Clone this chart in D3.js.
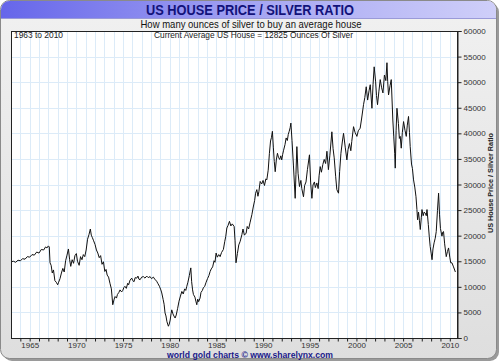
<!DOCTYPE html>
<html>
<head>
<meta charset="utf-8">
<script src="https://cdn.jsdelivr.net/npm/d3@7"></script>
<style>
  body { margin: 0; background: #fff; }
  svg { display: block; font-family: "Liberation Sans", Arial, sans-serif; }
</style>
</head>
<body>
<div class="chart"></div>
<script>
// house price / silver ratio ([year, ounces])
const ratio = [
  [1963.0,14900],[1963.25,15000],[1963.5,14800],[1963.75,15200],[1964.0,15100],[1964.25,15500],
  [1964.5,15400],[1964.75,15900],[1965.0,15800],[1965.25,16300],[1965.5,16200],[1965.75,16800],
  [1966.0,16600],[1966.25,17300],[1966.5,17200],[1966.7,17800],[1966.85,17600],[1967.0,18000],
  [1967.1,17800],[1967.18,14700],[1967.3,14200],[1967.42,12700],[1967.55,13300],[1967.7,11200],
  [1967.85,10900],[1968.0,10400],[1968.1,10900],[1968.25,11600],[1968.4,12700],[1968.55,13600],
  [1968.7,12900],[1968.85,15100],[1969.0,16200],[1969.15,17400],[1969.28,15300],[1969.4,14000],
  [1969.55,15300],[1969.7,14600],[1969.85,16100],[1970.0,16500],[1970.12,15000],[1970.3,14200],
  [1970.45,15900],[1970.6,15300],[1970.75,16300],[1970.9,15900],[1971.05,17200],[1971.2,19300],
  [1971.35,20200],[1971.5,21300],[1971.6,20100],[1971.72,19600],[1971.85,19000],[1972.0,18300],
  [1972.15,17200],[1972.3,16600],[1972.45,15700],[1972.6,16100],[1972.75,14400],[1972.9,14900],
  [1973.05,13000],[1973.18,13400],[1973.3,12300],[1973.45,11900],[1973.6,10700],[1973.75,9600],
  [1973.9,6500],[1974.05,7600],[1974.15,8100],[1974.3,7800],[1974.4,8500],[1974.55,8900],
  [1974.68,9400],[1974.85,9000],[1974.97,9300],[1975.1,9900],[1975.2,10100],[1975.35,9700],
  [1975.5,10700],[1975.6,10400],[1975.75,11300],[1975.93,11700],[1976.05,11200],[1976.18,11000],
  [1976.3,11800],[1976.47,11700],[1976.6,12100],[1976.7,11500],[1976.83,11400],[1977.0,11900],
  [1977.18,12000],[1977.35,11700],[1977.54,12100],[1977.7,11800],[1977.9,12000],[1978.05,11600],
  [1978.25,11900],[1978.4,11500],[1978.6,11100],[1978.75,10600],[1978.9,10100],[1979.05,9400],
  [1979.15,8800],[1979.3,7500],[1979.4,6600],[1979.5,4900],[1979.6,4300],[1979.7,3200],
  [1979.86,2300],[1979.95,2700],[1980.05,3500],[1980.15,4800],[1980.22,5500],[1980.35,4700],
  [1980.45,4300],[1980.58,3900],[1980.7,4500],[1980.85,5800],[1981.0,7200],[1981.15,8200],
  [1981.3,9100],[1981.45,8600],[1981.6,9600],[1981.72,9300],[1981.83,10100],[1981.95,10900],
  [1982.1,12200],[1982.26,13700],[1982.35,11000],[1982.45,9400],[1982.54,8500],[1982.7,8000],
  [1982.8,7200],[1982.9,6500],[1983.0,7600],[1983.1,7100],[1983.25,7800],[1983.35,8900],
  [1983.5,9300],[1983.6,9800],[1983.75,10100],[1983.9,10900],[1984.05,11600],[1984.2,12200],
  [1984.33,13000],[1984.45,13500],[1984.6,13900],[1984.75,15100],[1984.85,14800],[1984.97,16600],
  [1985.1,15800],[1985.25,16300],[1985.4,15900],[1985.55,16700],[1985.75,17300],[1985.9,18900],
  [1986.0,19800],[1986.12,21500],[1986.25,22000],[1986.4,22800],[1986.55,21900],[1986.7,22300],
  [1986.9,21800],[1987.0,19000],[1987.1,14700],[1987.25,16500],[1987.4,18200],[1987.55,18900],
  [1987.73,20200],[1987.85,21300],[1988.0,20100],[1988.19,20500],[1988.3,21800],[1988.45,21300],
  [1988.6,22500],[1988.8,24100],[1988.95,25600],[1989.1,26900],[1989.2,28300],[1989.33,29000],
  [1989.45,27700],[1989.55,28600],[1989.69,30600],[1989.85,30100],[1990.0,30800],[1990.15,29800],
  [1990.3,31100],[1990.4,30900],[1990.55,32800],[1990.68,36100],[1990.8,38500],[1990.9,39200],
  [1991.0,40400],[1991.1,37300],[1991.2,34500],[1991.3,32500],[1991.42,34800],[1991.54,36100],
  [1991.65,35300],[1991.78,34900],[1991.9,35600],[1992.0,34800],[1992.1,35900],[1992.2,36700],
  [1992.35,37800],[1992.47,39100],[1992.6,38600],[1992.7,39800],[1992.8,40400],[1992.9,41100],
  [1992.98,42000],[1993.1,38600],[1993.25,33800],[1993.44,27300],[1993.52,31900],[1993.62,37400],
  [1993.75,32200],[1993.9,29600],[1994.05,30800],[1994.15,29200],[1994.33,27600],[1994.45,29800],
  [1994.6,30500],[1994.75,32900],[1994.97,35800],[1995.1,30300],[1995.23,27300],[1995.35,29900],
  [1995.5,30500],[1995.6,29400],[1995.76,30300],[1995.9,29200],[1996.0,31700],[1996.12,33500],
  [1996.25,32400],[1996.4,33900],[1996.55,34900],[1996.7,34100],[1996.84,36500],[1997.0,32900],
  [1997.15,35600],[1997.37,40300],[1997.5,37000],[1997.62,35200],[1997.78,31500],[1997.9,29000],
  [1998.08,28300],[1998.2,32500],[1998.34,36100],[1998.5,38500],[1998.62,40000],[1998.8,37300],
  [1998.98,34800],[1999.1,36800],[1999.25,38000],[1999.4,36600],[1999.5,38400],[1999.69,41300],
  [1999.85,40200],[2000.05,39400],[2000.2,40500],[2000.4,41000],[2000.55,42800],[2000.76,45600],
  [2000.9,47000],[2001.05,49100],[2001.2,46500],[2001.35,48300],[2001.48,49500],[2001.66,44900],
  [2001.78,49500],[2001.9,53000],[2002.05,50200],[2002.15,47400],[2002.26,45600],[2002.4,48100],
  [2002.55,50500],[2002.7,48900],[2002.84,47900],[2003.0,51400],[2003.15,50300],[2003.27,53800],
  [2003.35,50100],[2003.44,47500],[2003.6,49300],[2003.73,50500],[2003.9,42600],[2004.0,39300],
  [2004.1,36100],[2004.16,33200],[2004.25,40500],[2004.34,44900],[2004.5,41900],[2004.6,39000],
  [2004.69,39400],[2004.8,37100],[2004.92,40200],[2005.05,42300],[2005.2,40600],[2005.34,39400],
  [2005.45,41600],[2005.58,43300],[2005.68,40200],[2005.76,37400],[2005.9,34000],[2006.0,33100],
  [2006.12,30900],[2006.25,29500],[2006.38,27600],[2006.48,25100],[2006.55,23100],[2006.65,24600],
  [2006.75,22900],[2006.84,21200],[2006.95,23500],[2007.02,25100],[2007.15,23900],[2007.25,24600],
  [2007.37,24400],[2007.48,23900],[2007.56,25100],[2007.7,22200],[2007.8,19900],[2007.9,17900],
  [2008.0,16600],[2008.1,15300],[2008.2,17400],[2008.32,18600],[2008.44,19500],[2008.55,20800],
  [2008.68,24900],[2008.8,28300],[2008.9,24200],[2009.0,21400],[2009.16,19900],[2009.25,20700],
  [2009.33,20800],[2009.45,18400],[2009.62,15900],[2009.75,16900],[2009.87,17600],[2010.0,15800],
  [2010.1,14700],[2010.23,14700],[2010.4,13900],[2010.6,12900]
];

const xTickYears = d3.range(1965, 2011, 5);
const yTicks = d3.range(0, 60001, 5000);
const gridYears = d3.range(1964, 2011, 1);

const title = "US HOUSE PRICE / SILVER RATIO";
const subtitle = "How many ounces of silver to buy an average house";
const rangeNote = "1963 to 2010";
const currentNote = "Current Average US House = 12825 Ounces Of Silver";
const yTitle = "US House Price / Silver Ratio";
const credit = "world gold charts \u00a9 www.sharelynx.com";

const W = 500, H = 362;
const plot = { left: 11, top: 31, right: 458, bottom: 338 };

const svg = d3.select(".chart").append("svg").attr("width", W).attr("height", H);
const defs = svg.append("defs");

const bgGrad = defs.append("linearGradient").attr("id", "bg").attr("x1", 0).attr("y1", 0).attr("x2", 0).attr("y2", 1);
bgGrad.append("stop").attr("offset", "0%").attr("stop-color", "#f1f1f1");
bgGrad.append("stop").attr("offset", "100%").attr("stop-color", "#dedede");

const titleGrad = defs.append("linearGradient").attr("id", "tbar").attr("x1", 0).attr("y1", 0).attr("x2", 1).attr("y2", 0);
titleGrad.append("stop").attr("offset", "0%").attr("stop-color", "#6666ea");
titleGrad.append("stop").attr("offset", "55%").attr("stop-color", "#a9a9f3");
titleGrad.append("stop").attr("offset", "100%").attr("stop-color", "#cfcff9");

// frame with shadow
svg.append("rect").attr("x", 3).attr("y", 3).attr("width", 496).attr("height", 358)
  .attr("rx", 9).attr("fill", "#9a9a9a");
svg.append("rect").attr("x", 0.5).attr("y", 0.5).attr("width", 496).attr("height", 358)
  .attr("rx", 9).attr("fill", "url(#bg)").attr("stroke", "#8a8a8a");

// title bar, rounded on top only
const tb = d3.path();
tb.moveTo(1, 18);
tb.lineTo(1, 9.5);
tb.arcTo(1, 1, 9.5, 1, 8.5);
tb.lineTo(487, 1);
tb.arcTo(496, 1, 496, 9.5, 8.5);
tb.lineTo(496, 18);
tb.closePath();
svg.append("path").attr("d", tb.toString()).attr("fill", "url(#tbar)");
svg.append("line").attr("x1", 1).attr("x2", 496).attr("y1", 18.5).attr("y2", 18.5).attr("stroke", "#9a9ad8");

svg.append("text").attr("x", 250).attr("y", 15).attr("text-anchor", "middle")
  .attr("font-size", 14).attr("font-weight", "bold").attr("fill", "#12127a")
  .attr("textLength", 208).attr("lengthAdjust", "spacingAndGlyphs").text(title);

svg.append("text").attr("x", 251).attr("y", 28).attr("text-anchor", "middle")
  .attr("font-size", 10.5).attr("fill", "#111")
  .attr("textLength", 221).attr("lengthAdjust", "spacingAndGlyphs").text(subtitle);

// plot area
const x = d3.scaleLinear().domain([1963, 2010.88]).range([plot.left, plot.right]);
const y = d3.scaleLinear().domain([0, 60000]).range([plot.bottom, plot.top]);

svg.append("rect").attr("x", plot.left).attr("y", plot.top)
  .attr("width", plot.right - plot.left).attr("height", plot.bottom - plot.top).attr("fill", "#fff");

svg.append("g").selectAll("line").data(gridYears).join("line")
  .attr("x1", d => Math.round(x(d)) + 0.5).attr("x2", d => Math.round(x(d)) + 0.5)
  .attr("y1", plot.top).attr("y2", plot.bottom)
  .attr("stroke", "#dcebf8");

svg.append("g").selectAll("line").data(yTicks.slice(1, -1)).join("line")
  .attr("x1", plot.left).attr("x2", plot.right)
  .attr("y1", d => Math.round(y(d)) + 0.5).attr("y2", d => Math.round(y(d)) + 0.5)
  .attr("stroke", "#dcebf8");

svg.append("text").attr("x", 14).attr("y", 38).attr("font-size", 8.5).attr("fill", "#222")
  .attr("textLength", 49).attr("lengthAdjust", "spacingAndGlyphs").text(rangeNote);
svg.append("text").attr("x", 154).attr("y", 38).attr("font-size", 8.5).attr("fill", "#222")
  .attr("textLength", 199).attr("lengthAdjust", "spacingAndGlyphs").text(currentNote);

const line = d3.line().x(d => x(d[0])).y(d => y(d[1]));
svg.append("path").datum(ratio).attr("d", line)
  .attr("fill", "none").attr("stroke", "#111").attr("stroke-width", 1).attr("stroke-linejoin", "round");

// frame of the plot
svg.append("rect").attr("x", plot.left + 0.5).attr("y", plot.top + 0.5)
  .attr("width", plot.right - plot.left - 1).attr("height", plot.bottom - plot.top)
  .attr("fill", "none").attr("stroke", "#222");

// right axis
const yAxis = svg.append("g").attr("transform", `translate(${plot.right - 0.5},0)`)
  .call(d3.axisRight(y).tickValues(yTicks).tickFormat(d3.format("d")).tickSize(4).tickPadding(2));
yAxis.select(".domain").attr("stroke", "#222");
yAxis.selectAll(".tick line").attr("stroke", "#222");
yAxis.selectAll("text").attr("font-size", 8).attr("fill", "#333")
  .attr("font-family", "'Liberation Sans', Arial, sans-serif");

// bottom axis: a tick per year, labels every five years
const xTicks = svg.append("g").attr("transform", `translate(0,${plot.bottom + 0.5})`)
  .call(d3.axisBottom(x).tickValues(gridYears).tickSize(3).tickFormat(""));
xTicks.select(".domain").remove();
xTicks.selectAll(".tick line").attr("stroke", "#222");

const xLabels = svg.append("g").attr("transform", `translate(0,${plot.bottom + 0.5})`)
  .call(d3.axisBottom(x).tickValues(xTickYears).tickSize(0).tickPadding(4).tickFormat(d3.format("d")));
xLabels.select(".domain").remove();
xLabels.selectAll("text").attr("font-size", 8).attr("fill", "#333")
  .attr("font-family", "'Liberation Sans', Arial, sans-serif");

svg.append("text").attr("transform", "translate(493,183) rotate(-90)")
  .attr("text-anchor", "middle").attr("font-size", 8).attr("font-weight", "bold").attr("fill", "#222")
  .attr("textLength", 100).attr("lengthAdjust", "spacingAndGlyphs").text(yTitle);

svg.append("text").attr("x", 250).attr("y", 358).attr("text-anchor", "middle")
  .attr("font-size", 9).attr("font-weight", "bold").attr("fill", "#1a1a8a")
  .attr("textLength", 166).attr("lengthAdjust", "spacingAndGlyphs").text(credit);
</script>
</body>
</html>
